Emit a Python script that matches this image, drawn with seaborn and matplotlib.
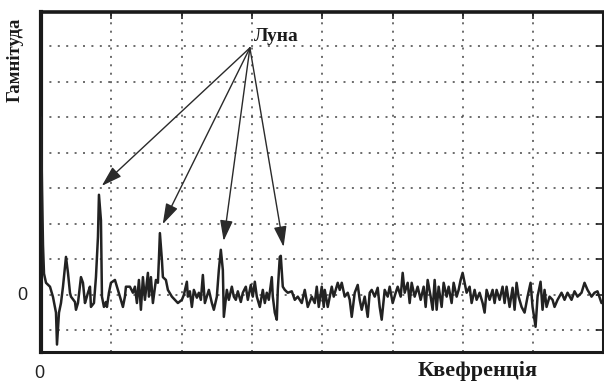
import numpy as np
import pandas as pd
import matplotlib
matplotlib.use("Agg")
import matplotlib.pyplot as plt
import seaborn as sns

# Cepstrum trace: sample index along the quefrency axis and amplitude (grid units)
sample = [0, 1, 2, 3, 5, 9, 12, 15, 16, 18, 20, 22, 25, 27, 29, 30, 34, 35, 37, 40,
          42, 44, 45, 47, 49, 50, 53, 55, 57, 58, 60, 61, 63, 65, 66, 68, 70, 74, 77, 79,
          82, 84, 85, 89, 92, 94, 96, 98, 100, 102, 104, 107, 108, 110, 112, 115, 117, 118, 119, 121,
          122, 125, 127, 131, 134, 137, 141, 143, 146, 147, 149, 151, 153, 156, 158, 160, 162, 164, 166, 168,
          171, 173, 176, 178, 180, 182, 183, 186, 188, 191, 193, 195, 197, 200, 202, 205, 207, 210, 212, 214,
          216, 219, 222, 224, 226, 228, 231, 232, 234, 236, 237, 239, 240, 242, 244, 247, 251, 254, 257, 261,
          264, 267, 271, 274, 276, 278, 281, 283, 284, 287, 291, 293, 297, 299, 301, 304, 307, 309, 311, 314,
          317, 319, 321, 324, 327, 329, 331, 334, 337, 339, 341, 344, 347, 349, 352, 355, 357, 360, 362, 364,
          367, 369, 371, 374, 377, 380, 383, 385, 387, 390, 392, 394, 396, 398, 401, 403, 406, 408, 411, 413,
          416, 418, 420, 422, 424, 426, 429, 431, 434, 436, 439, 442, 444, 446, 449, 452, 454, 456, 459, 462,
          464, 466, 469, 472, 474, 476, 478, 481, 484, 487, 490, 492, 495, 497, 500, 502, 504, 506, 509, 512,
          514, 517, 521, 524, 527, 531, 534, 537, 541, 544, 547, 551, 554, 557, 561]
amplitude = [5.0, 3.0, 1.4, 0.6, 0.34, 0.23, -0.06, -0.5, -1.4, -0.5, -0.23, 0.23, 1.07, 0.62, 0.06, -0.05, -0.2, -0.42, -0.23, 0.5,
             0.34, -0.23, -0.14, 0.06, 0.23, -0.34, -0.23, 0.5, 1.63, 2.82, 2.1, -0.05, -0.34, -0.2, -0.34, 0.06, 0.34, 0.42, 0.14, -0.05,
             -0.34, -0.05, 0.23, 0.23, 0.06, 0.23, -0.23, 0.42, -0.42, 0.5, -0.14, 0.62, -0.05, 0.5, -0.23, 0.42, 0.34, 0.99, 1.74, 0.99,
             0.5, 0.42, 0.14, -0.05, -0.14, -0.23, -0.14, 0.0, 0.37, -0.05, 0.1, -0.34, 0.14, -0.08, 0.06, -0.14, 0.56, -0.23, -0.05, 0.14,
             -0.23, -0.42, -0.05, 0.7, 1.27, 0.7, -0.62, 0.14, -0.14, 0.23, -0.05, -0.14, 0.1, -0.2, 0.06, 0.23, -0.14, 0.28, -0.05, 0.37,
             -0.05, -0.34, 0.14, -0.23, 0.06, -0.14, 0.5, -0.05, -0.5, -0.7, 0.14, 1.07, 1.1, 0.23, 0.14, 0.06, 0.1, -0.14, -0.05, -0.23,
             0.14, -0.34, -0.05, -0.23, 0.23, -0.34, 0.23, -0.34, 0.14, -0.34, 0.23, -0.05, 0.34, 0.14, 0.34, -0.05, 0.06, -0.14, -0.62, 0.06,
             0.28, -0.14, -0.42, -0.05, -0.62, 0.06, 0.14, -0.05, 0.2, -0.34, -0.7, 0.14, -0.05, 0.23, -0.23, 0.06, 0.23, -0.05, 0.62, 0.06,
             0.34, -0.23, 0.34, -0.05, 0.23, -0.14, 0.23, -0.34, 0.42, -0.05, -0.42, 0.42, -0.42, 0.23, -0.34, 0.34, -0.05, 0.23, -0.23, 0.34,
             -0.05, 0.14, 0.42, 0.62, 0.34, 0.06, 0.23, -0.23, 0.14, -0.14, 0.06, -0.23, -0.5, 0.14, -0.14, 0.14, -0.23, 0.14, -0.14, 0.23,
             -0.23, 0.23, -0.34, 0.2, -0.42, 0.34, -0.05, -0.34, -0.5, -0.05, 0.34, -0.34, -0.9, -0.05, 0.37, -0.42, 0.14, -0.34, -0.05, -0.14,
             -0.34, -0.14, 0.06, -0.14, 0.06, -0.14, 0.1, -0.05, 0.06, 0.34, 0.14, -0.05, 0.06, 0.1, -0.23]

# Echo peaks marked by the "Луна" arrows
echo_samples = [58, 119, 180, 240]

samples_per_division = 70.4
n_divisions = 8

df = pd.DataFrame({"q": np.array(sample) / samples_per_division, "amp": amplitude})

sns.set_style("white")
plt.rcParams["font.family"] = ["Liberation Serif", "DejaVu Serif"]

fig = plt.figure(figsize=(6.04, 3.84), dpi=100)
ax = fig.add_axes([41 / 604, 1 - 352 / 384, 562 / 604, 340 / 384])

# dotted grid
grid_style = dict(color="#444444", lw=1.1, ls=(0, (1.3, 4.2)), zorder=0)
for k in range(1, n_divisions):
    ax.axvline(k, **grid_style)
for k in range(-1, 8):
    ax.axhline(k, **grid_style)

sns.lineplot(data=df, x="q", y="amp", ax=ax, color="#222222", lw=1.8,
             estimator=None, sort=False, zorder=3)

ax.set_xlim(0, n_divisions - 0.01)
ax.set_ylim(-1.61, 7.97)
ax.set_xticks(range(0, n_divisions))
ax.set_yticks(range(-1, 8))
ax.tick_params(direction="in", length=5, width=1.2, color="#222222",
               top=True, right=True, labelbottom=False, labelleft=False)
for side in ["left", "right", "top", "bottom"]:
    ax.spines[side].set_color("#1a1a1a")
    ax.spines[side].set_visible(True)
ax.spines["left"].set_linewidth(3.0)
ax.spines["top"].set_linewidth(2.6)
ax.spines["bottom"].set_linewidth(2.2)
ax.spines["right"].set_linewidth(2.2)
ax.set_xlabel("")
ax.set_ylabel("")

# arrows from the "Луна" label to the echo peaks
label_xy = (2.97, 6.96)
amp_by_sample = dict(zip(sample, amplitude))
for s in echo_samples:
    q = s / samples_per_division
    a = amp_by_sample[s]
    ax.annotate("", xy=(q + 0.04, a + 0.25), xytext=label_xy,
                arrowprops=dict(arrowstyle="-|>,head_length=0.9,head_width=0.28",
                                color="#2a2a2a", lw=1.0, mutation_scale=14,
                                shrinkA=0, shrinkB=0), zorder=4)
ax.text(3.34, 7.27, "Луна", ha="center", va="center", fontsize=14,
        fontweight="bold", color="#1a1a1a", zorder=5)

# labels
fig.text(15 / 604, 1 - 60 / 384, "Гамнітуда", rotation=90, ha="center", va="center",
         fontsize=13.5, fontweight="bold", color="#1a1a1a")
fig.text(478 / 604, 1 - 371 / 384, "Квефренція", ha="center", va="center",
         fontsize=16, fontweight="bold", color="#1a1a1a")
fig.text(22 / 604, 1 - 296 / 384, "0", ha="center", va="center",
         fontsize=13, family=["Liberation Sans", "DejaVu Sans"], color="#222222")
fig.text(39 / 604, 1 - 373 / 384, "0", ha="center", va="center",
         fontsize=13, family=["Liberation Sans", "DejaVu Sans"], color="#222222")

fig.savefig("out.png", dpi=100, facecolor="white")
